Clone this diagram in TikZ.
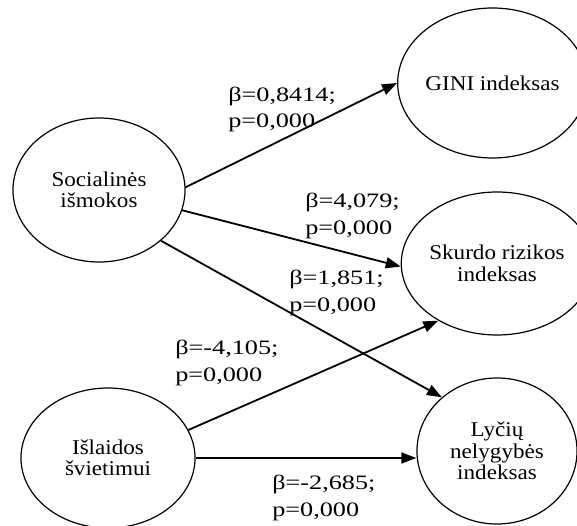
\documentclass[tikz,border=0pt]{standalone}
\usepackage{fontspec}
\setmainfont{Liberation Serif}
\usetikzlibrary{arrows.meta,shapes.geometric}
\begin{document}
\begin{tikzpicture}[x=1pt,y=-1pt,
  var/.style={draw, line width=1.2pt, ellipse, inner sep=0pt, align=center,
    font=\fontsize{21}{21.5}\selectfont, xscale=1.1, transform shape},
  coef/.style={inner sep=0pt, align=left, anchor=west,
    font=\fontsize{20.5}{26.5}\selectfont, xscale=1.28, transform shape},
  link/.style={line width=1.8pt, -{Triangle[length=15pt,width=11pt]}}]
\useasboundingbox (0,0) rectangle (577,526);

% constructs
\node[var, minimum width=156.4pt, minimum height=144pt] (soc) at (99,190) {Socialinės\\išmokos};
\node[var, minimum width=158.2pt, minimum height=140pt] (isl) at (108,458) {Išlaidos\\švietimui};
\node[var, minimum width=153.6pt, minimum height=150pt] (gini) at (492.5,83) {GINI indeksas};
\node[var, minimum width=147.3pt, minimum height=143pt] (skurdo) at (497,263.5) {Skurdo rizikos\\indeksas};
\node[var, minimum width=145.5pt, minimum height=146pt] (lyciu) at (497,451) {Lyčių\\nelygybės\\indeksas};

% paths
\draw[link] (soc.2) -- (gini.west);
\draw[link] (soc.-15.3) -- (skurdo.182);
\draw[link] (soc.-42.3) -- (lyciu.133.9);
\draw[link] (isl.21.8) -- (skurdo.227.4);
\draw[link] (isl.east) -- (isl.east -| lyciu.west);

% path coefficients
\node[coef] (c1) at (228,109.5) {β=0,8414;\\p=0,000};
\node[coef] (c2) at (305,216) {β=4,079;\\p=0,000};
\node[coef] (c3) at (289,293) {β=1,851;\\p=0,000};
\node[coef] (c4) at (175,363) {β=-4,105;\\p=0,000};
\node[coef] (c5) at (272,498) {β=-2,685;\\p=0,000};
\end{tikzpicture}
\end{document}
